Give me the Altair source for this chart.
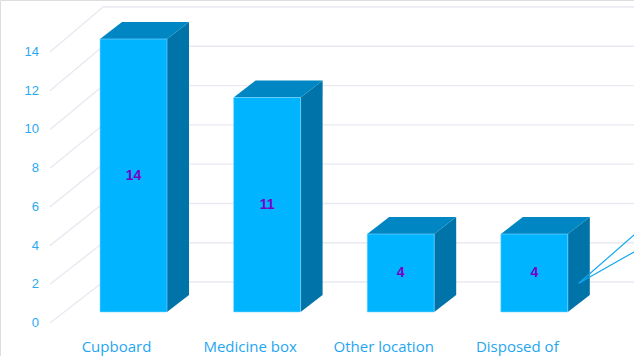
import altair as alt
import pandas as pd

# ---- data ----
categories = ["Cupboard", "Medicine box", "Other location", "Disposed of"]
counts = [14, 11, 4, 4]
tick_values = [0, 2, 4, 6, 8, 10, 12, 14]

# ---- layout / projection constants ----
W, H = 634, 356
PX = 19.5                      # pixels per unit on the bar plane
BASE = 312                     # pixel row of value 0 on the bar plane
Y_DOMAIN = [-(H - BASE) / PX, BASE / PX]
X0, STEP, BW = 100.0, 133.6, 67.0
DX, DV = 22.0, 17.0 / PX       # bar depth (x pixels, value units)
FRONT_X, BACK_X = 50.0, 103.0  # floor front edge / back wall x
LABEL_V = -35.0 / PX

FRONT_C = "#00B4FF"
TOP_C = "#0087C3"
SIDE_C = "#0074A8"
TICK_C = "#2AA8F2"
CAT_C = "#1FA6F0"
VAL_C = "#7A00C8"
GRID_C = "#E9E9F2"


def front_v(t):
    return -0.564 + t * 0.9925


def back_v(t):
    return 1.538 + t * 1.0073


front, side, top = [], [], []
for i, (c, v) in enumerate(zip(categories, counts)):
    xl = X0 + i * STEP
    xr = xl + BW
    front.append(dict(cat=c, v=v, xl=xl, xr=xr, y0=0.0, xc=(xl + xr) / 2,
                      lx=(xl + xr) / 2 - 17, mid=v / 2, lab=str(v), ly=LABEL_V))
    side += [dict(cat=c, x=xr, y=v, y2=0.0, o=0),
             dict(cat=c, x=xr + DX, y=v + DV, y2=DV, o=1)]
    top += [dict(cat=c, y=v, x=xl, x2=xr, o=0),
            dict(cat=c, y=v + DV, x=xl + DX, x2=xr + DX, o=1)]

grid, tick_rows = [], []
for t in tick_values:
    fv, bv = front_v(t), back_v(t)
    grid += [dict(t=t, x=FRONT_X, y=fv, o=0),
             dict(t=t, x=BACK_X, y=bv, o=1),
             dict(t=t, x=W, y=bv, o=2)]
    tick_rows.append(dict(t=str(t), x=FRONT_X - 11, y=fv))

# leader lines leaving the last bar towards the right edge
last = front[-1]
lead = [dict(x=last["xr"] + DX / 2, y=DV + 0.6, x2=W, y2=3.95),
        dict(x=last["xr"] + DX / 2, y=DV + 0.6, x2=W, y2=3.08)]

xs = alt.Scale(domain=[0, W], nice=False, zero=False)
ys = alt.Scale(domain=Y_DOMAIN, nice=False, zero=False)

grid_layer = alt.Chart(pd.DataFrame(grid)).mark_line(
    color=GRID_C, strokeWidth=1.4
).encode(
    x=alt.X("x:Q", scale=xs, axis=None),
    y=alt.Y("y:Q", scale=ys, axis=None),
    detail="t:N",
    order="o:Q",
)

tick_layer = alt.Chart(pd.DataFrame(tick_rows)).mark_text(
    align="right", baseline="middle", font="Liberation Sans", fontSize=13, color=TICK_C
).encode(x=alt.X("x:Q", scale=xs, axis=None), y=alt.Y("y:Q", scale=ys, axis=None), text="t:N")

fdf = pd.DataFrame(front)

side_layer = alt.Chart(pd.DataFrame(side)).mark_area(
    fill=SIDE_C, fillOpacity=1, interpolate="linear", orient="vertical"
).encode(
    x=alt.X("x:Q", scale=xs, axis=None),
    y=alt.Y("y:Q", scale=ys, axis=None, stack=None),
    y2="y2:Q",
    detail="cat:N",
)

top_layer = alt.Chart(pd.DataFrame(top)).mark_area(
    fill=TOP_C, fillOpacity=1, orient="horizontal", interpolate="linear"
).encode(
    y=alt.Y("y:Q", scale=ys, axis=None),
    x=alt.X("x:Q", scale=xs, axis=None, stack=None),
    x2="x2:Q",
    detail="cat:N",
)

front_layer = alt.Chart(fdf).mark_rect(
    color=FRONT_C, stroke="#7FD6FF", strokeWidth=0.6
).encode(
    x=alt.X("xl:Q", scale=xs, axis=None),
    x2="xr:Q",
    y=alt.Y("v:Q", scale=ys, axis=None),
    y2="y0:Q",
)

value_layer = alt.Chart(fdf).mark_text(
    font="Liberation Sans", fontWeight="bold", fontSize=14, color=VAL_C, baseline="middle"
).encode(
    x=alt.X("xc:Q", scale=xs, axis=None),
    y=alt.Y("mid:Q", scale=ys, axis=None),
    text="lab:N",
)

cat_layer = alt.Chart(fdf).mark_text(
    font="Open Sans", fontSize=15, color=CAT_C, baseline="middle"
).encode(
    x=alt.X("lx:Q", scale=xs, axis=None),
    y=alt.Y("ly:Q", scale=ys, axis=None),
    text="cat:N",
)

lead_layer = alt.Chart(pd.DataFrame(lead)).mark_rule(color="#12A8EE", strokeWidth=1.2).encode(
    x=alt.X("x:Q", scale=xs, axis=None),
    y=alt.Y("y:Q", scale=ys, axis=None),
    x2="x2:Q",
    y2="y2:Q",
)

chart = alt.layer(
    grid_layer, tick_layer, side_layer, top_layer, front_layer, value_layer, cat_layer, lead_layer
).properties(
    width=W, height=H, padding=0, autosize=alt.AutoSizeParams(type="none")
).configure_view(stroke=None).configure(background="white")

chart.save("out.html", embed_options={"renderer": "svg", "actions": False})
